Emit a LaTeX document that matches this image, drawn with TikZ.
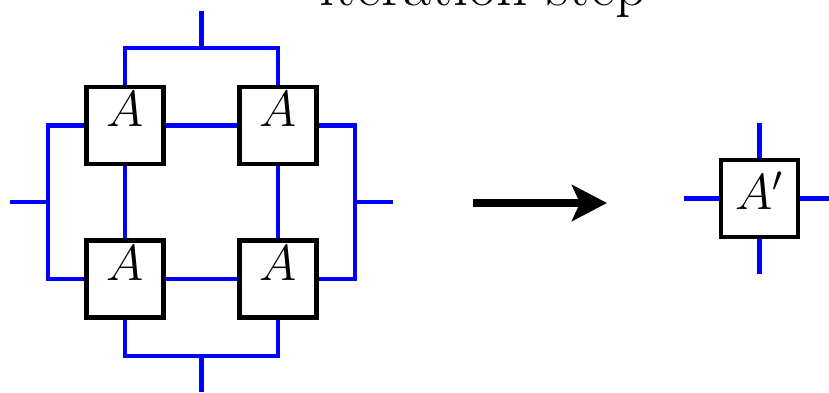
\documentclass[tikz,border=0pt]{standalone}
\usepackage{amsmath, amssymb}
\usetikzlibrary{arrows.meta}
\tikzset{>={Stealth[length=3.5mm,width=3.6mm,inset=0.8mm]}}
\tikzset{sq/.style={draw, line width=1.4pt, fill=white, minimum size=0.77cm, inner sep=0pt},
         leg/.style={blue, line width=1.2pt},
         lab/.style={font=\fontsize{13.7}{16}\selectfont}}

\begin{document}
\begin{tikzpicture}
    \useasboundingbox (0,0) rectangle (8.29,3.92);
    \node[font=\fontsize{17.5}{20}\selectfont, anchor=base] (title) at (4.83,3.87) {iteration step};

    \node[sq, label={[lab, anchor=north, inner sep=2pt]north:$A$}] (a11) at (1.25,2.665) {};
    \node[sq, label={[lab, anchor=north, inner sep=2pt]north:$A$}] (a12) at (2.78,2.665) {};
    \node[sq, label={[lab, anchor=north, inner sep=2pt]north:$A$}] (a21) at (1.25,1.13) {};
    \node[sq, label={[lab, anchor=north, inner sep=2pt]north:$A$}] (a22) at (2.78,1.13) {};

    \coordinate (top) at (2.015,3.44);
    \coordinate (topend) at (2.015,3.81);
    \coordinate (bot) at (2.015,0.36);
    \coordinate (botend) at (2.015,0);
    \coordinate (lft) at (0.48,1.90);
    \coordinate (lftend) at (0.10,1.90);
    \coordinate (rgt) at (3.55,1.90);
    \coordinate (rgtend) at (3.93,1.90);

    \draw[leg] (a11.east) -- (a12.west);
    \draw[leg] (a21.east) -- (a22.west);
    \draw[leg] (a11.south) -- (a21.north);
    \draw[leg] (a12.south) -- (a22.north);
    \draw[leg] (a11.north) |- (top) -| (a12.north);
    \draw[leg] (top) -- (topend);
    \draw[leg] (a21.south) |- (bot) -| (a22.south);
    \draw[leg] (bot) -- (botend);
    \draw[leg] (a11.west) -| (lft) |- (a21.west);
    \draw[leg] (lft) -- (lftend);
    \draw[leg] (a12.east) -| (rgt) |- (a22.east);
    \draw[leg] (rgt) -- (rgtend);

    \coordinate (arrs) at (4.73,1.89);
    \coordinate (arre) at (6.07,1.89);
    \draw[->, line width=2.3pt] (arrs) -- (arre);

    \node[sq, label={[lab, yshift=0.08cm]center:$A'$}] (ap) at (7.595,1.935) {};
    \coordinate (apn) at (7.595,2.69);
    \coordinate (aps) at (7.595,1.18);
    \coordinate (apw) at (6.84,1.935);
    \coordinate (ape) at (8.29,1.935);
    \draw[leg] (ap.north) -- (apn);
    \draw[leg] (ap.south) -- (aps);
    \draw[leg] (ap.west) -- (apw);
    \draw[leg] (ap.east) -- (ape);
\end{tikzpicture}
\end{document}
